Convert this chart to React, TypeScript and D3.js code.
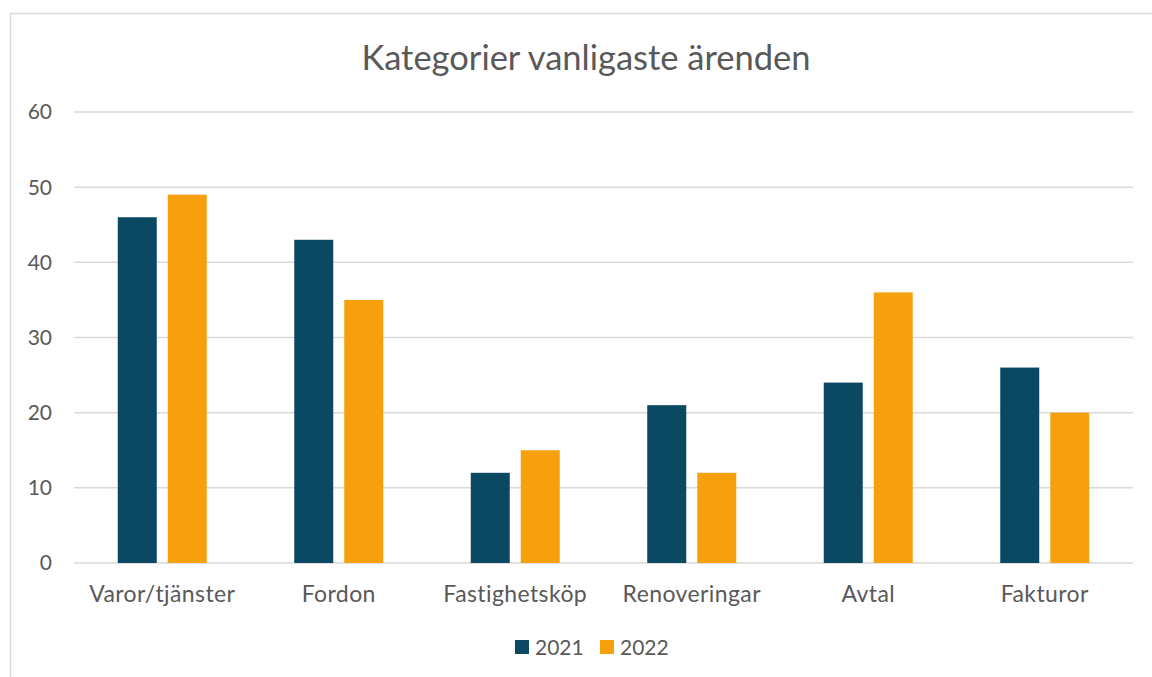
import React from 'react';
import * as d3 from 'd3';

const categories = ['Varor/tjänster', 'Fordon', 'Fastighetsköp', 'Renoveringar', 'Avtal', 'Fakturor'];
const series2021 = [46, 43, 12, 21, 24, 26];
const series2022 = [49, 35, 15, 12, 36, 20];
const seriesNames = ['2021', '2022'];
const yTicks = [0, 10, 20, 30, 40, 50, 60];

const W = 1152;
const H = 677;
const colors = ['#0b4862', '#f5a00c'];
const textColor = '#595959';
const font = 'Lato, "Open Sans", sans-serif';

const App: React.FC = () => {
  const x = d3.scaleBand<string>().domain(categories).range([74, 1133]);
  const y = d3.scaleLinear().domain([0, 60]).range([563, 112]);
  // bars about 39px wide with an 11px gap inside each group
  const x1 = d3.scaleBand<string>().domain(seriesNames).range([0, x.bandwidth()]).paddingInner(0.22).paddingOuter(0.875);
  const values = [series2021, series2022];

  return (
    <div style={{ position: 'fixed', left: 0, top: 0 }}>
      <svg width={W} height={H} style={{ display: 'block', background: '#fff' }}>
        <rect x={10.5} y={13.5} width={W + 10} height={H + 10} fill="#fff" stroke="#d9d9d9" strokeWidth={1.5} />
        <text x={586} y={70} textAnchor="middle" fontFamily={font} fontSize={34.5} fill={textColor}>
          Kategorier vanligaste ärenden
        </text>
        {yTicks.map((t) => (
          <g key={t}>
            <line x1={74} x2={1133} y1={y(t)} y2={y(t)} stroke="#d9d9d9" strokeWidth={1.5} />
            <text x={52} y={y(t)} dy="0.35em" textAnchor="end" fontFamily={font} fontSize={21} fill={textColor}>
              {t}
            </text>
          </g>
        ))}
        {categories.map((c, i) => (
          <g key={c} transform={`translate(${x(c)},0)`}>
            {seriesNames.map((s, j) => (
              <rect
                key={s}
                x={x1(s)}
                y={y(values[j][i])}
                width={x1.bandwidth()}
                height={y(0) - y(values[j][i])}
                fill={colors[j]}
              />
            ))}
            <text x={x.bandwidth() / 2} y={602} textAnchor="middle" fontFamily={font} fontSize={23} letterSpacing={0.4} fill={textColor}>
              {c}
            </text>
          </g>
        ))}
        {seriesNames.map((s, j) => (
          <g key={s} transform={`translate(${515 + j * 85},640)`}>
            <rect x={0} y={0} width={14} height={14} fill={colors[j]} />
            <text x={20} y={7} dy="0.36em" fontFamily={font} fontSize={21} fill={textColor}>
              {s}
            </text>
          </g>
        ))}
      </svg>
    </div>
  );
};

export default App;
